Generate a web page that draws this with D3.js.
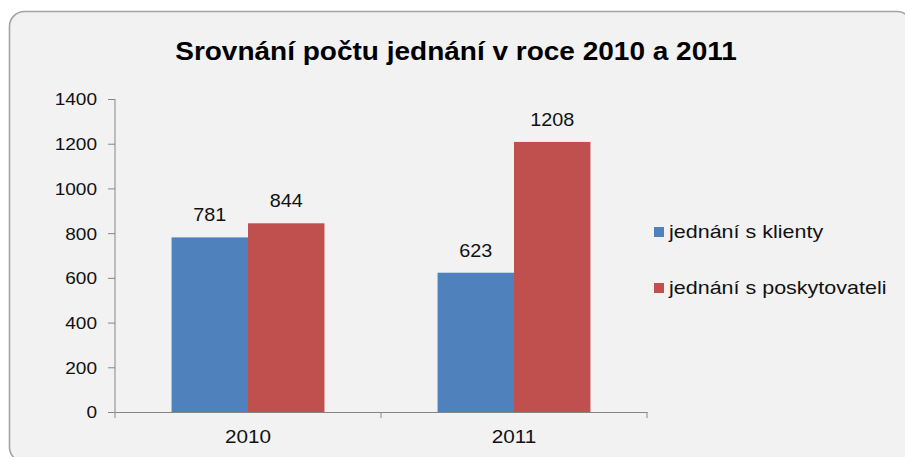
<!DOCTYPE html>
<html>
<head>
<meta charset="utf-8">
<script src="https://cdn.jsdelivr.net/npm/d3@7/dist/d3.min.js"></script>
<style>
  html, body { margin: 0; padding: 0; background: #fff; }
  svg { display: block; font-family: Arial, "Liberation Sans", sans-serif; }
</style>
</head>
<body>
<div class="chart"></div>
<script>
'use strict';

const years = ['2010', '2011'];
const seriesNames = ['jednání s klienty', 'jednání s poskytovateli'];
const klienty = [781, 623];
const poskytovateli = [844, 1208];
const yTicks = [0, 200, 400, 600, 800, 1000, 1200, 1400];
const colors = ['#4f81bd', '#c0504d'];

const FULL_WIDTH = 905;
const FULL_HEIGHT = 457;
const SX = 1.12; // the picture is stretched horizontally

const plot = { left: 115, right: 647, top: 99, bottom: 412 };

const svg = d3.select('.chart')
  .append('svg')
    .attr('width', FULL_WIDTH)
    .attr('height', FULL_HEIGHT);

// frame
svg.append('rect')
  .attr('x', 9.5)
  .attr('y', 11.5)
  .attr('width', 912 - 9.5)
  .attr('height', 462 - 11.5)
  .attr('rx', 15)
  .attr('fill', '#f2f2f2')
  .attr('stroke', '#a3a3a3')
  .attr('stroke-width', 1.6);

function stretchedText(g, x, y, txt) {
  return g.append('text')
    .attr('transform', 'translate(' + x + ',' + y + ') scale(' + SX + ',1)')
    .text(txt);
}

// title
stretchedText(svg, 456, 60, 'Srovnání počtu jednání v roce 2010 a 2011')
  .attr('text-anchor', 'middle')
  .attr('font-size', 25)
  .attr('font-weight', 'bold')
  .attr('fill', '#000');

const data = years.map((y, i) => ({ year: y, values: [klienty[i], poskytovateli[i]] }));

const x0 = d3.scaleBand()
  .domain(years)
  .range([plot.left, plot.right])
  .padding(0);

const x1 = d3.scaleBand()
  .domain(seriesNames)
  .range([0, x0.bandwidth()])
  .paddingInner(0)
  .paddingOuter(0.74);

const y = d3.scaleLinear()
  .domain([0, 1400])
  .range([plot.bottom, plot.top]);

// bars
const groups = svg.selectAll('.grp')
  .data(data)
  .enter()
  .append('g')
    .attr('class', 'grp')
    .attr('transform', (d) => 'translate(' + x0(d.year) + ',0)');

groups.selectAll('rect')
  .data((d) => d.values.map((v, i) => ({ name: seriesNames[i], value: v, i: i })))
  .enter()
  .append('rect')
    .attr('x', (d) => x1(d.name))
    .attr('y', (d) => y(d.value))
    .attr('width', x1.bandwidth())
    .attr('height', (d) => y(0) - y(d.value))
    .attr('fill', (d) => colors[d.i]);

groups.selectAll('.lbl')
  .data((d) => d.values.map((v, i) => ({ name: seriesNames[i], value: v })))
  .enter()
  .append('text')
    .attr('class', 'lbl')
    .attr('transform', (d) => 'translate(' + (x1(d.name) + x1.bandwidth() / 2) + ',' + (y(d.value) - 16) + ') scale(' + SX + ',1)')
    .attr('text-anchor', 'middle')
    .attr('font-size', 17.7)
    .attr('fill', '#111')
    .text((d) => d.value);

// y axis
const yAxis = svg.append('g')
  .attr('transform', 'translate(' + plot.left + ',0)')
  .call(d3.axisLeft(y).tickValues(yTicks).tickFormat(d3.format('d')).tickSize(7).tickSizeOuter(0));

yAxis.select('.domain').remove();
yAxis.selectAll('line').attr('stroke', '#868686');
yAxis.selectAll('text')
  .attr('x', -18 / SX)
  .attr('dy', '0.35em')
  .attr('transform', 'scale(' + SX + ',1)')
  .attr('font-size', 17)
  .attr('font-family', 'Arial, "Liberation Sans", sans-serif')
  .attr('fill', '#111');

svg.append('line')
  .attr('x1', plot.left).attr('x2', plot.left)
  .attr('y1', plot.top).attr('y2', plot.bottom + 6)
  .attr('stroke', '#868686');

// x axis
const xAxis = svg.append('g')
  .attr('transform', 'translate(0,' + plot.bottom + ')')
  .call(d3.axisBottom(x0).tickSize(0).tickSizeOuter(0));

xAxis.select('.domain').attr('stroke', '#868686');
xAxis.selectAll('text')
  .attr('y', 31)
  .attr('dy', 0)
  .attr('transform', 'scale(' + SX + ',1)')
  .attr('font-size', 18.5)
  .attr('font-family', 'Arial, "Liberation Sans", sans-serif')
  .attr('fill', '#111');

const bounds = years.map((d) => x0(d)).concat([x0(years[years.length - 1]) + x0.step()]);
svg.selectAll('.xtick')
  .data(bounds.slice(1))
  .enter()
  .append('line')
    .attr('class', 'xtick')
    .attr('x1', (d) => d).attr('x2', (d) => d)
    .attr('y1', plot.bottom).attr('y2', plot.bottom + 6)
    .attr('stroke', '#868686');

// legend
const legend = svg.selectAll('.legend')
  .data(seriesNames)
  .enter()
  .append('g')
    .attr('class', 'legend')
    .attr('transform', (d, i) => 'translate(654,' + (227 + i * 56) + ')');

legend.append('rect')
  .attr('width', 10)
  .attr('height', 10)
  .attr('fill', (d, i) => colors[i]);

legend.append('text')
  .attr('transform', 'translate(15,11) scale(' + SX + ',1)')
  .attr('font-size', 19.2)
  .attr('fill', '#111')
  .text((d) => d);
</script>
</body>
</html>
